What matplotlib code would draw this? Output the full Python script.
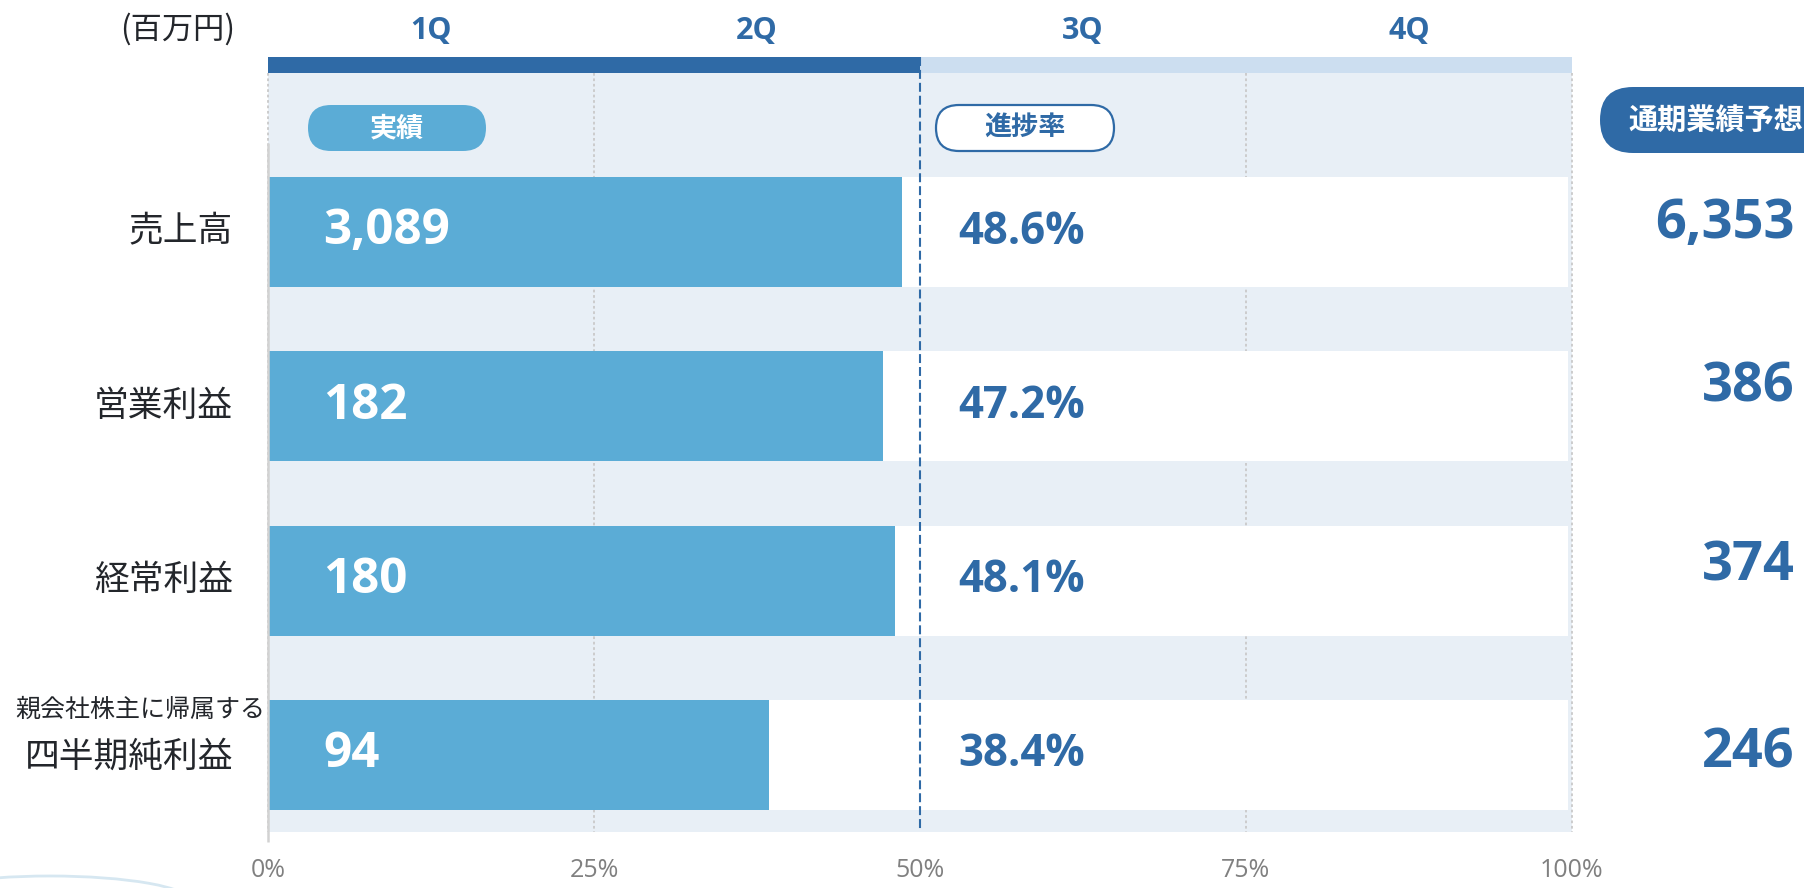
import matplotlib
matplotlib.use("Agg")
import matplotlib.pyplot as plt
from matplotlib.patches import FancyBboxPatch, Arc

# ---------------- data ----------------
categories = ["売上高", "営業利益", "経常利益", "四半期純利益"]
category_prefix = ["", "", "", "親会社株主に帰属する"]
actual = [3089, 182, 180, 94]            # 実績 (百万円)
progress = [48.6, 47.2, 48.1, 38.4]      # 進捗率 (%)
forecast = [6353, 386, 374, 246]         # 通期業績予想 (百万円)
quarters = ["1Q", "2Q", "3Q", "4Q"]
x_ticks = [0, 25, 50, 75, 100]

# ---------------- style ----------------
DARK = "#2F6AA6"
BAR = "#5BACD6"
PANEL = "#E8EFF6"
TOPLIGHT = "#CCDEF0"
GRID = "#C9C9C9"
TXT = "#23262B"
CJK = ["Noto Sans CJK JP", "DejaVu Sans"]
LAT = ["Open Sans", "DejaVu Sans"]

W, H = 1804, 888
fig = plt.figure(figsize=(W / 100, H / 100), dpi=100)
fig.patch.set_facecolor("white")

# axes: x 0..100 % spans px 268..1572, y spans px 57..832
AX_L, AX_R, AX_T, AX_B = 268, 1572, 57, 832
ax = fig.add_axes([AX_L / W, (H - AX_B) / H, (AX_R - AX_L) / W, (AX_B - AX_T) / H])
ROW = 174.3          # px per row
ROW0 = 232.0         # px of first row centre
def ry(ypx):
    return (ypx - ROW0) / ROW
def rx(xpx):
    return (xpx - AX_L) / (AX_R - AX_L) * 100

ax.set_xlim(0, 100)
ax.set_ylim(ry(AX_B), ry(AX_T))
for s in ax.spines.values():
    s.set_visible(False)
ax.set_facecolor("none")

panel_top = ry(73)
# background panel and quarter band
ax.axhspan(panel_top, ry(AX_B), color=PANEL, lw=0, zorder=0)
ax.axhspan(ry(AX_T), panel_top, xmin=0, xmax=0.5, color=DARK, lw=0, zorder=1)
ax.axhspan(ry(AX_T), panel_top, xmin=0.5, xmax=1, color=TOPLIGHT, lw=0, zorder=1)

# dotted grid
for gx in [0, 25, 75, 100]:
    ax.vlines(gx, panel_top, ry(AX_B), colors=GRID, lw=1.3,
              linestyles=(0, (1.5, 1.5)), zorder=1, clip_on=False)
ax.vlines(0, ry(143), ry(842), colors="#D2D2D2", lw=1.8, zorder=4, clip_on=False)

ypos = list(range(len(categories)))
ax.barh(ypos, [99.7] * len(ypos), height=0.631, color="white", lw=0, zorder=2)
ax.barh(ypos, progress, height=0.631, color=BAR, lw=0, zorder=3)

# 50% dashed line
ax.vlines(50, ry(AX_T), ry(AX_B), colors=DARK, lw=1.5,
          linestyles=(0, (4.3, 1.9)), zorder=5)

# x ticks
ax.set_yticks([])
ax.set_xticks(x_ticks)
ax.set_xticklabels([f"{t}%" for t in x_ticks], fontsize=18, color="#808080",
                   family=LAT)
ax.tick_params(axis="x", length=0, pad=19)

# labels in rows
fc_off = [-8, -19, -14, -1]
for i in ypos:
    ax.text(rx(323), i, f"{actual[i]:,}", color="white", fontsize=35.5,
            fontweight="bold", family=LAT, ha="left", va="center", zorder=6)
    ax.text(rx(958), i, f"{progress[i]:.1f}%", color=DARK, fontsize=31.5,
            fontweight="bold", family=LAT, ha="left", va="center", zorder=6)
    ax.text(rx(1795), i + fc_off[i] / ROW, f"{forecast[i]:,}", color=DARK,
            fontsize=39, fontweight="bold", family=LAT, ha="right",
            va="center", zorder=6, clip_on=False)
    if category_prefix[i]:
        ax.text(rx(265), i - 45 / ROW, category_prefix[i], color=TXT,
                fontsize=18, family=CJK, ha="right", va="center")
        ax.text(rx(233), i + 2 / ROW, categories[i], color=TXT,
                fontsize=25, family=CJK, ha="right", va="center")
    else:
        ax.text(rx(233), i, categories[i], color=TXT,
                fontsize=25, family=CJK, ha="right", va="center")

# quarter labels
for k, q in enumerate(quarters):
    ax.text(12.5 + 25 * k, ry(31), q, color=DARK, fontsize=22,
            fontweight="bold", family=LAT, ha="center", va="center",
            clip_on=False)

fig.text(178 / W, 1 - 29 / H, "(百万円)", color=TXT, fontsize=22.5,
         family=CJK, ha="center", va="center")

# pills (in inches, via dpi_scale_trans)
tr = fig.dpi_scale_trans
def pill(x0, y0, x1, y1, fc, ec, lw):
    h = (y1 - y0) / 100
    p = FancyBboxPatch((x0 / 100, (H - y1) / 100), (x1 - x0) / 100, h,
                       boxstyle=f"round,pad=0,rounding_size={h / 2}",
                       transform=tr, fc=fc, ec=ec, lw=lw, zorder=10)
    fig.add_artist(p)

pill(308, 105, 486, 151, BAR, BAR, 0)
fig.text(397 / 100, (H - 128) / 100, "実績", transform=tr, color="white",
         fontsize=19.5, fontweight="bold", family=CJK, ha="center",
         va="center", zorder=11)
pill(936, 105, 1114, 151, "white", DARK, 1.6)
fig.text(1025 / 100, (H - 128) / 100, "進捗率", transform=tr, color=DARK,
         fontsize=19.5, fontweight="bold", family=CJK, ha="center",
         va="center", zorder=11)
pill(1600, 87, 1860, 153, DARK, DARK, 0)
fig.text(1628 / 100, (H - 120) / 100, "通期業績予想", transform=tr,
         color="white", fontsize=21, fontweight="bold", family=CJK,
         ha="left", va="center", zorder=11)

# faint decorative arc bottom-left
arc = Arc((0.5, (H - 901) / 100), 2.8, 0.5, theta1=0, theta2=180,
          transform=tr, color="#D6E7F1", lw=2)
fig.add_artist(arc)

fig.savefig("out.png", dpi=100, facecolor="white")
